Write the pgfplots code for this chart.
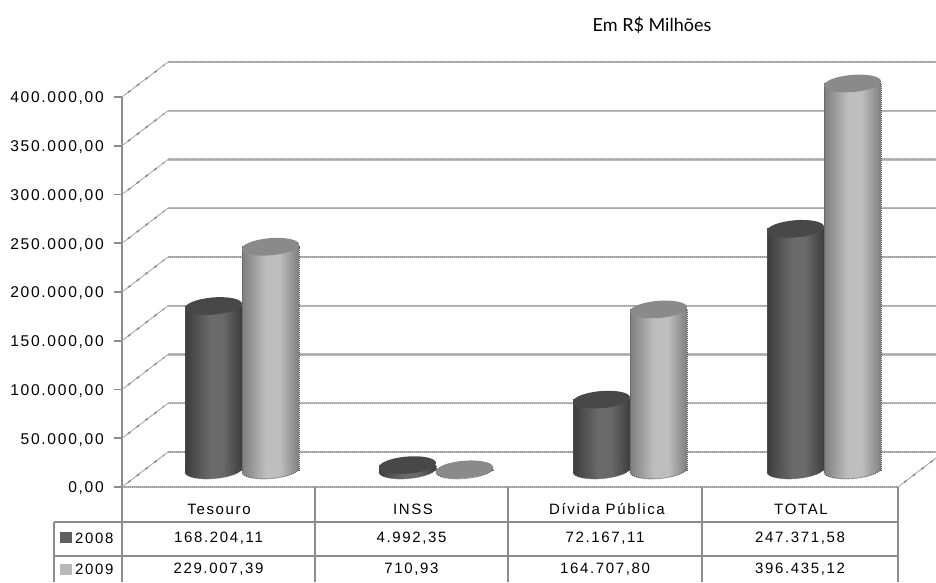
\documentclass[border=0pt]{standalone}
\usepackage{fontspec}
\usepackage{pgfplots}
\usepackage{pgfplotstable}
\pgfplotsset{compat=1.18}
\usetikzlibrary{calc}
\setmainfont{Liberation Sans}
\newfontfamily\chartfont[LetterSpace=11]{Liberation Sans}
\newfontfamily\notefont{Lato}

\definecolor{linegray}{HTML}{8C8C8C}
\definecolor{gridlight}{HTML}{BABABA}
\definecolor{griddark}{HTML}{989898}
\definecolor{c08edge}{HTML}{3C3C3C}
\definecolor{c08mid}{HTML}{6A6A6A}
\definecolor{c08top}{HTML}{484848}
\definecolor{c09edge}{HTML}{7E7E7E}
\definecolor{c09mid}{HTML}{BEBEBE}
\definecolor{c09top}{HTML}{8A8A8A}

\pgfdeclarehorizontalshading{cyl08}{100bp}{
  color(0bp)=(c08edge); color(25bp)=(c08edge); color(47bp)=(c08mid);
  color(58bp)=(c08mid); color(75bp)=(c08edge); color(100bp)=(c08edge)}
\pgfdeclarehorizontalshading{cyl09}{100bp}{
  color(0bp)=(c09edge); color(25bp)=(c09edge); color(46bp)=(c09mid);
  color(58bp)=(c09mid); color(75bp)=(c09edge); color(100bp)=(c09edge)}

% cylinder ends; #1 is the offset of the series within the group
\newcommand\cylend[1]{\pgfpathellipse{\pgfpoint{#1}{0pt}}{\pgfpoint{28.5pt}{2.5pt}}{\pgfpoint{-1.2pt}{8.5pt}}}
\newcommand\dither{\pgfsetdash{{1pt}{1pt}}{0pt}\pgfsetlinewidth{0.9pt}\pgfsetstrokecolor{black!65}}
\newcommand\rim[1]{%
  \pgfscope\dither
  \pgftransformcm{28.5}{2.5}{-1.2}{8.5}{\pgfpoint{#1}{0pt}}%
  \pgfpathmoveto{\pgfpoint{1pt}{0pt}}\pgfpatharc{0}{-180}{1pt}\pgfusepath{stroke}%
  \endpgfscope}
\newcommand\cylbase[2]{\cylend{#1}\pgfshadepath{#2}{0}\pgfusepath{discard}\rim{#1}}
\newcommand\cyltop[2]{\pgfsetfillcolor{#2}\cylend{#1}\pgfusepath{fill}}
\pgfdeclareplotmark{base08}{\cylbase{-28.5pt}{cyl08}}
\pgfdeclareplotmark{base09}{\cylbase{28.5pt}{cyl09}}
\pgfdeclareplotmark{top08}{\cyltop{-28.5pt}{c08top}}
\pgfdeclareplotmark{top09}{\cyltop{28.5pt}{c09top}}

\pgfplotstableread{
cat base y2008 y2009
0 0 168204.11 229007.39
1 0 4992.35 710.93
2 0 72167.11 164707.80
3 0 247371.58 396435.12
}\cyldata

\pgfplotsset{
  plane/.style={
    scale only axis, width=776pt, height=390pt,
    xmin=-0.5, xmax=3.5, ymin=0, ymax=400000,
    clip=false, anchor=south west,
  },
  cyl/.style={ybar, bar width=57pt, shade, shading=#1,
    draw=black!65, line width=0.9pt, dash pattern=on 1pt off 1pt},
  grid band/.style={gridlight, line width=2.2pt},
  grid dots/.style={griddark, line width=1.1pt, dash pattern=on 1pt off 1pt},
}

\begin{document}
\begin{tikzpicture}[x=1pt,y=1pt]
\chartfont\fontsize{15}{18}\selectfont

% back wall
\begin{axis}[plane, at={(168pt,130pt)}, hide axis]
\pgfplotsinvokeforeach{0,50000,100000,150000,200000,250000,300000,350000,400000}{
  \addplot[grid band] coordinates {(-0.5,#1) (3.5,#1)};
  \addplot[grid dots] coordinates {(-0.5,#1) (3.5,#1)};
}
\end{axis}

% cylinders, one plot per bar so that each gets its own shading
\begin{axis}[plane, at={(145pt,112pt)}, hide axis]
\pgfplotsinvokeforeach{0,1,2,3}{
  \addplot[cyl=cyl08, bar shift=-28.5pt, restrict x to domain=#1:#1] table[x=cat,y=y2008] {\cyldata};
}
\addplot[only marks, mark=base08] table[x=cat,y=base] {\cyldata};
\addplot[only marks, mark=top08] table[x=cat,y=y2008] {\cyldata};
\pgfplotsinvokeforeach{0,1,2,3}{
  \addplot[cyl=cyl09, bar shift=28.5pt, restrict x to domain=#1:#1] table[x=cat,y=y2009] {\cyldata};
}
\addplot[only marks, mark=base09] table[x=cat,y=base] {\cyldata};
\addplot[only marks, mark=top09] table[x=cat,y=y2009] {\cyldata};
\end{axis}

% front plane: value axis and category labels
\begin{axis}[plane, at={(122pt,95pt)},
  axis x line=bottom, axis y line=left,
  separate axis lines,
  x axis line style={-, draw=none},
  y axis line style={-, linegray, line width=1.8pt},
  ytick={0,50000,100000,150000,200000,250000,300000,350000,400000},
  xtick={0,1,2,3},
  xticklabels={Tesouro,INSS,Dívida Pública,TOTAL},
  xtick style={draw=none},
  ytick style={linegray, line width=1.8pt},
  tick align=outside, major tick length=8pt,
  scaled y ticks=false,
  ticklabel style={font=\chartfont\fontsize{15}{18}\selectfont, text=black},
  yticklabel style={font=\chartfont\fontsize{15.6}{18}\selectfont, xshift=-5pt, yshift=-1.5pt,
    /pgf/number format/.cd, fixed, fixed zerofill, precision=2, use comma,
    1000 sep={.}, assume math mode=true},
  xticklabel style={anchor=center, yshift=-14pt},
]
\addplot[grid band] coordinates {(-0.5,0) (3.5,0)};
\addplot[grid dots] coordinates {(-0.5,0) (3.5,0)};
\pgfplotsinvokeforeach{0,50000,100000,150000,200000,250000,300000,350000,400000}{
  \draw[linegray!80, line width=0.8pt] (axis cs:-0.5,#1) -- ++(46pt,35pt);
  \draw[linegray, line width=1.6pt, dash pattern=on 3pt off 8pt] ($(axis cs:-0.5,#1)+(6pt,4.5pt)$) -- ++(36pt,27.4pt);
}
\draw[linegray!80, line width=0.8pt] (axis cs:3.5,0) -- ++(46pt,35pt);
\draw[linegray, line width=1.6pt, dash pattern=on 3pt off 8pt] ($(axis cs:3.5,0)+(6pt,4.5pt)$) -- ++(36pt,27.4pt);
\end{axis}

% data table under the chart
\begin{scope}[linegray, line width=2.2pt]
  \draw (54,60) -- (898,60);
  \draw (54,26) -- (898,26);
  \draw (54,60) -- (54,0);
  \foreach \x in {122,315,508,702,898} \draw (\x,95) -- (\x,0);
\end{scope}
\fill[c08mid!90!black] (60,39) rectangle (72,50);
\fill[c09mid!90!gray] (60,7) rectangle (72,18);
\node[anchor=west, inner sep=0pt] at (75,44) {2008};
\node[anchor=west, inner sep=0pt] at (75,13) {2009};
\node at (218.5,44) {168.204,11};
\node at (411.5,44) {4.992,35};
\node at (605,44) {72.167,11};
\node at (800,44) {247.371,58};
\node at (218.5,13) {229.007,39};
\node at (411.5,13) {710,93};
\node at (605,13) {164.707,80};
\node at (800,13) {396.435,12};

\node[font=\notefont\fontsize{18}{20}\selectfont] at (652,557) {Em R\$ Milhões};

\pgfresetboundingbox
\path[use as bounding box] (0,0) rectangle (936,582);
\end{tikzpicture}
\end{document}
